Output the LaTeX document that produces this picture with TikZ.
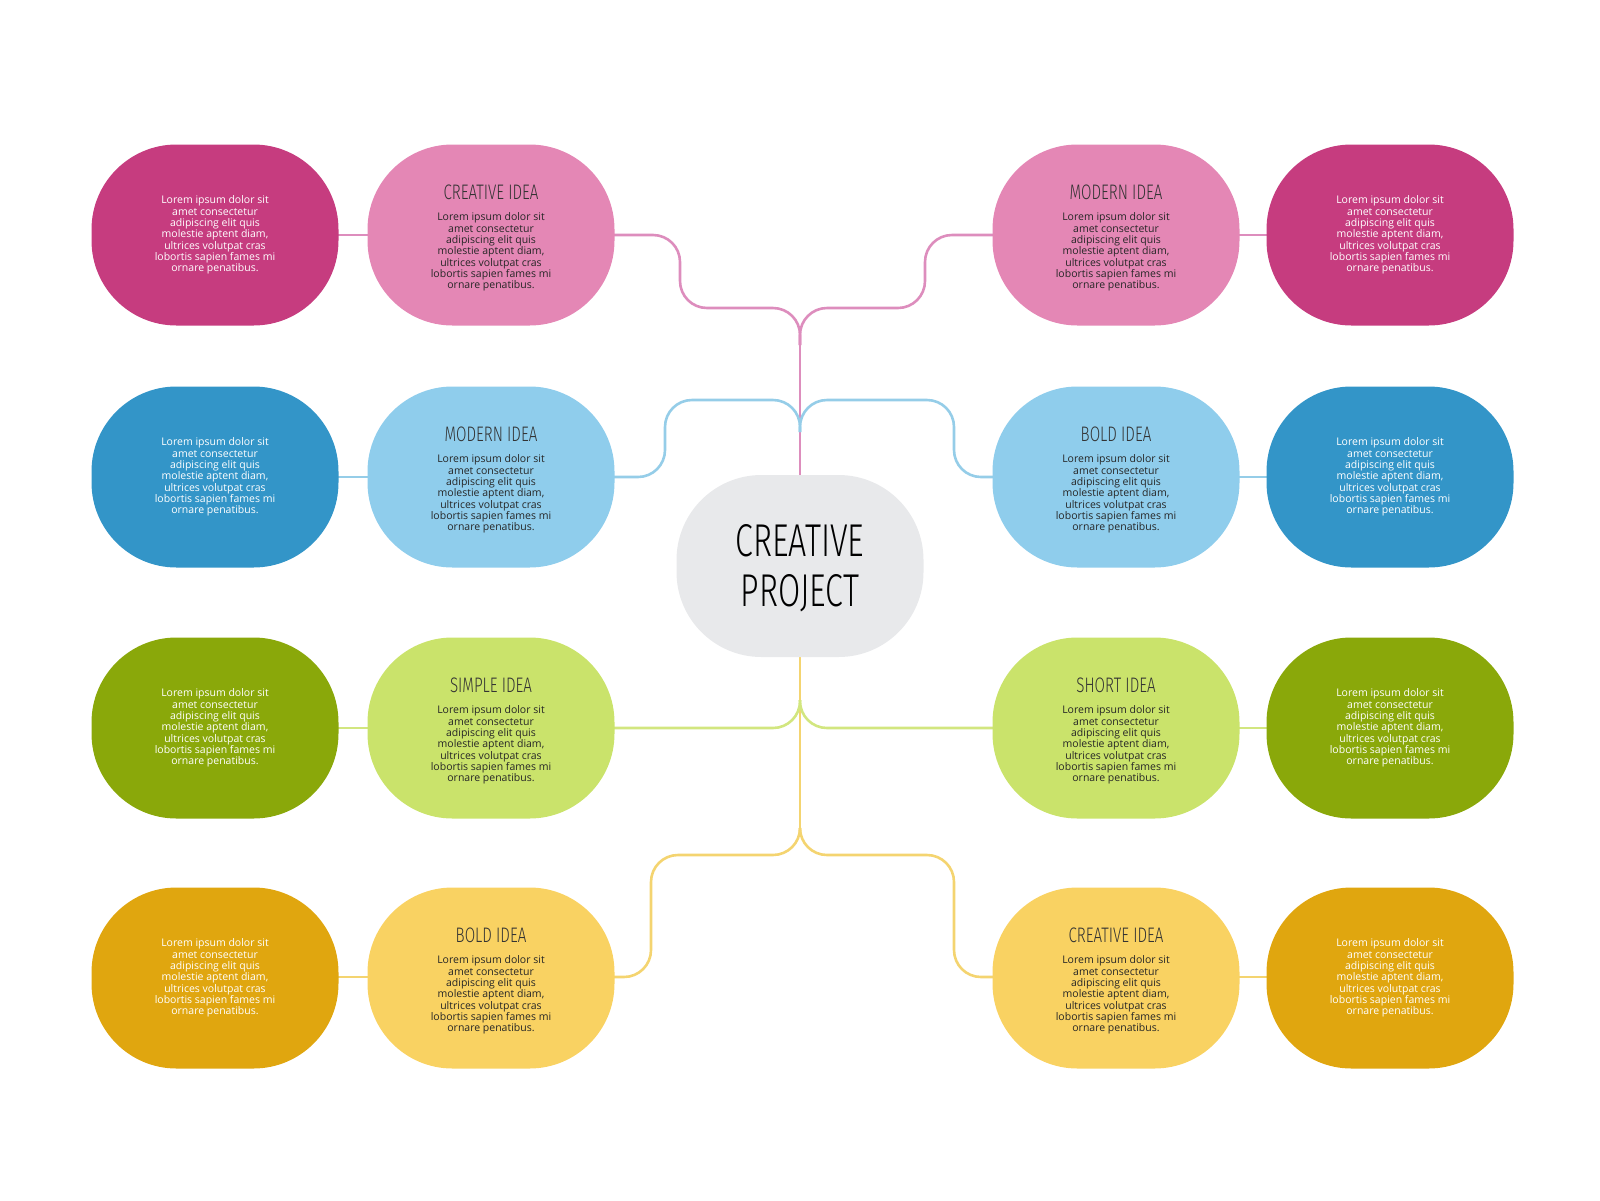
\documentclass[tikz,border=0pt]{standalone}
\usepackage{fontspec}
\setmainfont{Open Sans}
\newfontfamily\headfont{Fira Sans Light}
\begin{document}
\definecolor{dpink}{HTML}{C63C7F}\definecolor{lpink}{HTML}{E487B5}\definecolor{cpink}{HTML}{DD8DBD}
\definecolor{dblue}{HTML}{3395C8}\definecolor{lblue}{HTML}{8FCDEC}\definecolor{cblue}{HTML}{95CDE8}
\definecolor{dgreen}{HTML}{8AA80A}\definecolor{lgreen}{HTML}{CAE36B}\definecolor{cgreen}{HTML}{D2E67F}
\definecolor{dyel}{HTML}{E0A60F}\definecolor{lyel}{HTML}{F9D262}\definecolor{cyel}{HTML}{F4D470}
\definecolor{cgray}{HTML}{E8E9EB}
\begin{tikzpicture}[x=1pt,y=-1pt,
 blob/.style={rectangle,rounded corners=85pt,minimum width=247pt,minimum height=181pt,inner sep=0pt},
 body/.style={align=center,font=\fontsize{10.5}{11.3}\selectfont,inner sep=0pt},
 head/.style={font=\headfont\fontsize{21}{22}\selectfont,inner sep=0pt},
 conn/.style={line width=2.6pt,rounded corners=27pt}]
\useasboundingbox (0,0) rectangle (1600,1200);
\newcommand{\lorem}{Lorem ipsum dolor sit\\amet consectetur\\adipiscing elit quis\\molestie aptent diam,\\ultrices volutpat cras\\lobortis sapien fames mi\\ornare penatibus.}
\newcommand{\hd}[1]{\scalebox{0.72}[1]{#1}}
% connectors (drawn first)
\coordinate (jp) at (800,345); \coordinate (jb) at (800,432);
\coordinate (jg) at (800,700); \coordinate (jy) at (800,835);
\draw[conn,cpink] (614,235) -- (680,235) -- (680,308) -- (800,308) -- (jp);
\draw[conn,cpink] (993,235) -- (925,235) -- (925,308) -- (800,308) -- (jp);
\draw[line width=2.6pt,cpink] (jp) -- (800,478);
\draw[conn,cblue] (614,477) -- (665,477) -- (665,400) -- (800,400) -- (jb);
\draw[conn,cblue] (993,477) -- (954,477) -- (954,400) -- (800,400) -- (jb);
\draw[line width=2.6pt,cyel] (800,655) -- (jy);
\draw[conn,cgreen] (614,728) -- (800,728) -- (jg);
\draw[conn,cgreen] (993,728) -- (800,728) -- (jg);
\draw[conn,cyel] (614,977) -- (651,977) -- (651,855) -- (800,855) -- (jy);
\draw[conn,cyel] (993,977) -- (954,977) -- (954,855) -- (800,855) -- (jy);
\foreach \y/\c in {235/cpink,477/cblue,728/cgreen,977/cyel}{
 \draw[line width=2.6pt,\c] (330,\y) -- (375,\y);
 \draw[line width=2.6pt,\c] (1230,\y) -- (1275,\y);}
% center
\node[blob,fill=cgray,minimum height=182pt] (c) at (800,566) {};
\node[font=\headfont\fontsize{46}{50}\selectfont,align=center] (ct) at (800,568) {\scalebox{0.7}[1]{CREATIVE}\\\scalebox{0.7}[1]{PROJECT}};
% rows
\foreach \n/\y/\d/\l/\hl/\hr in {1/235/dpink/lpink/CREATIVE IDEA/MODERN IDEA,2/477/dblue/lblue/MODERN IDEA/BOLD IDEA,3/728/dgreen/lgreen/SIMPLE IDEA/SHORT IDEA,4/978/dyel/lyel/BOLD IDEA/CREATIVE IDEA}{
 \node[blob,fill=\d] (dl\n) at (215,\y) {};
 \node[body,text=white] (dlt\n) at (215,\y) {\lorem};
 \node[blob,fill=\l] (ll\n) at (491,\y) {};
 \node[head,text=black!80] (llh\n) at (491,\y-43) {\hd{\hl}};
 \node[body,text=black!85] (llt\n) at (491,\y+17) {\lorem};
 \node[blob,fill=\l] (rl\n) at (1116,\y) {};
 \node[head,text=black!80] (rlh\n) at (1116,\y-43) {\hd{\hr}};
 \node[body,text=black!85] (rlt\n) at (1116,\y+17) {\lorem};
 \node[blob,fill=\d] (dr\n) at (1390,\y) {};
 \node[body,text=white] (drt\n) at (1390,\y) {\lorem};
}
\end{tikzpicture}
\end{document}
